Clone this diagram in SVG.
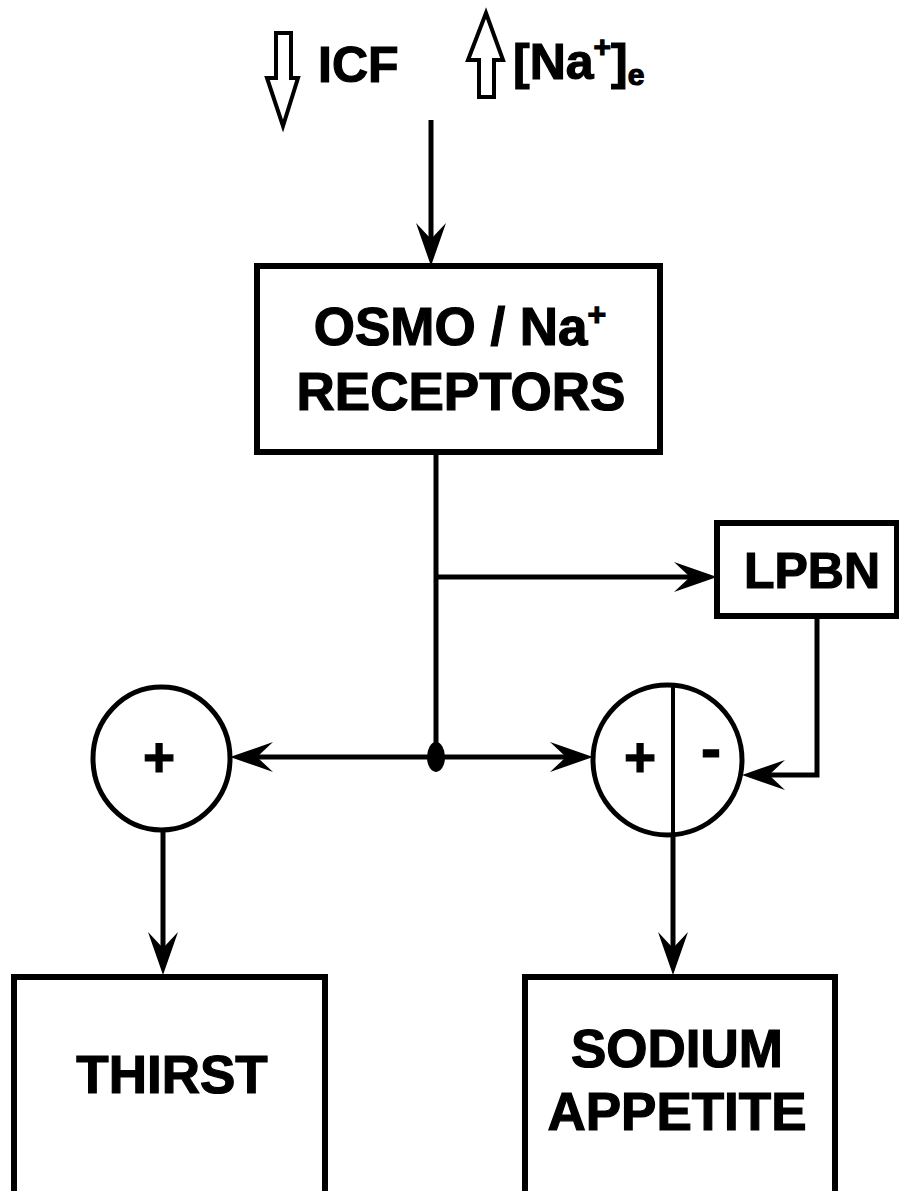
<svg xmlns="http://www.w3.org/2000/svg" width="899" height="1191" viewBox="0 0 899 1191">
<style>
.t{font-family:"Liberation Sans",Arial,sans-serif;font-weight:bold;fill:#000;stroke:#000;stroke-width:1.2}
.box{fill:#fff;stroke:#000;stroke-width:6}
.circ{fill:#fff;stroke:#000;stroke-width:5}
.ln{fill:none;stroke:#000;stroke-width:5}
.hollow{fill:#fff;stroke:#000;stroke-width:4;stroke-linejoin:miter}
</style>
<defs>
<marker id="ah" viewBox="0 -16 47 32" refX="20" refY="0" markerWidth="47" markerHeight="32" markerUnits="userSpaceOnUse" orient="auto">
<path d="M45,0 L2,-15 L18,0 L2,15 Z" fill="#000"/>
</marker>
</defs>
<rect width="899" height="1191" fill="#fff"/>

<g id="inputs">
<polygon class="hollow" points="276,33 291,33 291,78 298,78 283,126 267,78 276,78"/>
<text class="t" x="318" y="82" font-size="50">ICF</text>
<polygon class="hollow" points="479,97 494,97 494,60 503,60 486,13 468,60 479,60"/>
<text class="t" x="513" y="79" font-size="50">[Na<tspan font-size="30" dy="-22">+</tspan><tspan dy="22">]</tspan><tspan font-size="30" dy="6">e</tspan></text>
</g>

<g id="connectors">
<path class="ln" d="M431,120 V241" marker-end="url(#ah)"/>
<path class="ln" d="M436,452 V757"/>
<path class="ln" d="M436,577 H692" marker-end="url(#ah)"/>
<path class="ln" d="M436,757 H255" marker-end="url(#ah)"/>
<path class="ln" d="M436,757 H568" marker-end="url(#ah)"/>
<path class="ln" d="M817,616 V775 H767" marker-end="url(#ah)"/>
<path class="ln" d="M163,830 V950" marker-end="url(#ah)"/>
<path class="ln" d="M673,835 V950" marker-end="url(#ah)"/>
<ellipse cx="436" cy="757" rx="9" ry="15" fill="#000"/>
</g>

<g id="osmo">
<rect class="box" x="257" y="266" width="403" height="186"/>
<text class="t" x="460" y="345" font-size="53" text-anchor="middle">OSMO / Na<tspan font-size="32" dy="-20">+</tspan></text>
<text class="t" x="461" y="410" font-size="53" text-anchor="middle">RECEPTORS</text>
</g>

<g id="lpbn">
<rect class="box" x="717" y="523" width="180" height="93"/>
<text class="t" x="812" y="588" font-size="50" text-anchor="middle">LPBN</text>
</g>

<g id="sum-thirst">
<ellipse class="circ" cx="161.5" cy="758.5" rx="68.5" ry="71.5"/>
<text class="t" x="159" y="776" font-size="55" text-anchor="middle">+</text>
</g>

<g id="sum-sodium">
<ellipse class="circ" cx="667.5" cy="760" rx="74.5" ry="75"/>
<line x1="673" y1="685" x2="673" y2="835" stroke="#000" stroke-width="4"/>
<text class="t" x="640" y="776" font-size="55" text-anchor="middle">+</text>
<text class="t" x="711" y="769" font-size="60" text-anchor="middle" stroke="#000" stroke-width="4">-</text>
</g>

<g id="thirst">
<rect class="box" x="14" y="977" width="311" height="222"/>
<text class="t" x="172" y="1093" font-size="53" text-anchor="middle">THIRST</text>
</g>

<g id="sodium">
<rect class="box" x="525" y="977" width="310" height="222"/>
<text class="t" x="677" y="1067" font-size="53" text-anchor="middle">SODIUM</text>
<text class="t" x="677" y="1130" font-size="53" text-anchor="middle">APPETITE</text>
</g>
</svg>
